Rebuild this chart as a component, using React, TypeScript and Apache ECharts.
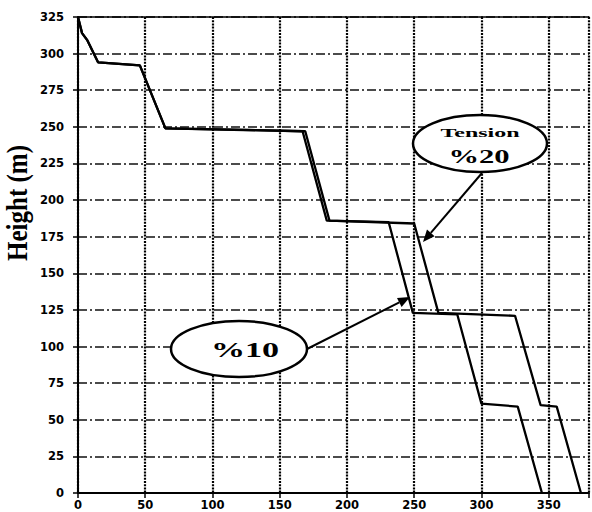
import React, { useEffect, useRef } from "react";
import * as echarts from "echarts";

const xTicks = [0, 50, 100, 150, 200, 250, 300, 350];
const yTicks = [0, 25, 50, 75, 100, 125, 150, 175, 200, 225, 250, 275, 300, 325];

const tension10X = [0, 3, 7, 15, 46, 65, 167, 185, 231, 249, 282, 300, 327, 345];
const tension10Y = [325, 314, 309, 294, 292, 249, 247, 186, 185, 123, 122, 61, 59, 0];

const tension20X = [0, 3, 7, 15, 46, 65, 169, 187, 250, 268, 325, 344, 356, 374];
const tension20Y = [325, 314, 309, 294, 292, 249, 247, 186, 184, 123, 121, 60, 59, 0];

const seriesNames = ["%10", "%20"];

function zip(xs: number[], ys: number[]) {
  return xs.map((x, i) => [x, ys[i]]);
}

export default function App() {
  const ref = useRef<HTMLDivElement>(null);
  useEffect(() => {
    if (!ref.current) return;
    const chart = echarts.init(ref.current, null, { renderer: "svg" });
    const labelFont = {
      fontFamily: "DejaVu Sans",
      fontWeight: 900 as any,
      fontSize: 11.5,
      color: "#000",
    };
    const serif = "Liberation Serif";
    chart.setOption({
      animation: false,
      backgroundColor: "#fff",
      grid: { left: 78, right: -2, top: 17, bottom: 19, containLabel: false },
      xAxis: [
        {
          type: "value",
          min: 0,
          max: 380,
          interval: 50,
          axisLine: { show: true, lineStyle: { color: "#000", width: 2 } },
          axisTick: { show: true, length: 5, inside: false, lineStyle: { color: "#000", width: 1.5 } },
          axisLabel: {
            ...labelFont,
            margin: 6,
            formatter: (v: number) => (xTicks.includes(v) ? String(v) : ""),
          },
          splitLine: {
            show: true,
            lineStyle: { color: "#000", width: 2.2, type: [2, 1.2] },
          },
        },
        {
          type: "value",
          position: "top",
          min: 0,
          max: 380,
          axisLine: { show: true, onZero: false, lineStyle: { color: "#000", width: 1.5 } },
          axisTick: { show: false },
          axisLabel: { show: false },
          splitLine: { show: false },
        },
      ],
      yAxis: {
        type: "value",
        min: 0,
        max: 325,
        interval: 25,
        axisLine: { show: true, lineStyle: { color: "#000", width: 2 } },
        axisTick: { show: true, length: 5, lineStyle: { color: "#000", width: 1.5 } },
        axisLabel: {
          ...labelFont,
          margin: 14,
          formatter: (v: number) => (yTicks.includes(v) ? String(v) : ""),
        },
        splitLine: {
          show: true,
          lineStyle: { color: "#111", width: 1.6, type: [9, 3, 2, 3] },
        },
      },
      series: [
        {
          name: seriesNames[0],
          type: "line",
          data: zip(tension10X, tension10Y),
          showSymbol: false,
          lineStyle: { color: "#000", width: 2.3 },
          z: 5,
        },
        {
          name: seriesNames[1],
          type: "line",
          data: zip(tension20X, tension20Y),
          showSymbol: false,
          lineStyle: { color: "#000", width: 2.3 },
          z: 5,
        },
      ],
      graphic: [
        {
          type: "text",
          x: 17,
          y: 203,
          rotation: Math.PI / 2,
          scaleY: 1.15,
          style: {
            text: "Height (m)",
            fontFamily: serif,
            fontWeight: "bold",
            fontSize: 25,
            fill: "#000",
            align: "center",
            verticalAlign: "middle",
          },
        },
        {
          type: "ellipse",
          shape: { cx: 480, cy: 143.5, rx: 67, ry: 28.5 },
          style: { fill: "#fff", stroke: "#000", lineWidth: 2.5 },
          z: 20,
        },
        {
          type: "text",
          x: 480,
          y: 133,
          z: 21,
          scaleX: 2.0,
          style: {
            text: "Tension",
            fontFamily: serif,
            fontWeight: "bold",
            fontSize: 12,
            fill: "#000",
            align: "center",
            verticalAlign: "middle",
          },
        },
        {
          type: "text",
          x: 479,
          y: 157,
          z: 21,
          scaleX: 1.7,
          style: {
            text: "%20",
            fontFamily: serif,
            fontWeight: "bold",
            fontSize: 18,
            fill: "#000",
            align: "center",
            verticalAlign: "middle",
          },
        },
        {
          type: "line",
          z: 20,
          shape: { x1: 482, y1: 173, x2: 430.8, y2: 232.9 },
          style: { stroke: "#000", lineWidth: 2 },
        },
        {
          type: "polygon",
          z: 20,
          shape: { points: [[423, 242], [434.6, 236.2], [427, 229.6]] },
          style: { fill: "#000" },
        },
        {
          type: "ellipse",
          shape: { cx: 239, cy: 349, rx: 68, ry: 28 },
          style: { fill: "#fff", stroke: "#000", lineWidth: 2.5 },
          z: 20,
        },
        {
          type: "text",
          x: 245,
          y: 349,
          z: 21,
          scaleX: 1.55,
          style: {
            text: "%10",
            fontFamily: serif,
            fontWeight: "bold",
            fontSize: 22,
            fill: "#000",
            align: "center",
            verticalAlign: "middle",
          },
        },
        {
          type: "line",
          z: 20,
          shape: { x1: 307, y1: 349, x2: 399.3, y2: 302.4 },
          style: { stroke: "#000", lineWidth: 2 },
        },
        {
          type: "polygon",
          z: 20,
          shape: { points: [[410, 297], [401.6, 306.9], [397, 297.9]] },
          style: { fill: "#000" },
        },
      ],
    });
    return () => chart.dispose();
  }, []);
  return (
    <div
      ref={ref}
      style={{ position: "fixed", left: 0, top: 0, width: 592, height: 512 }}
    />
  );
}
